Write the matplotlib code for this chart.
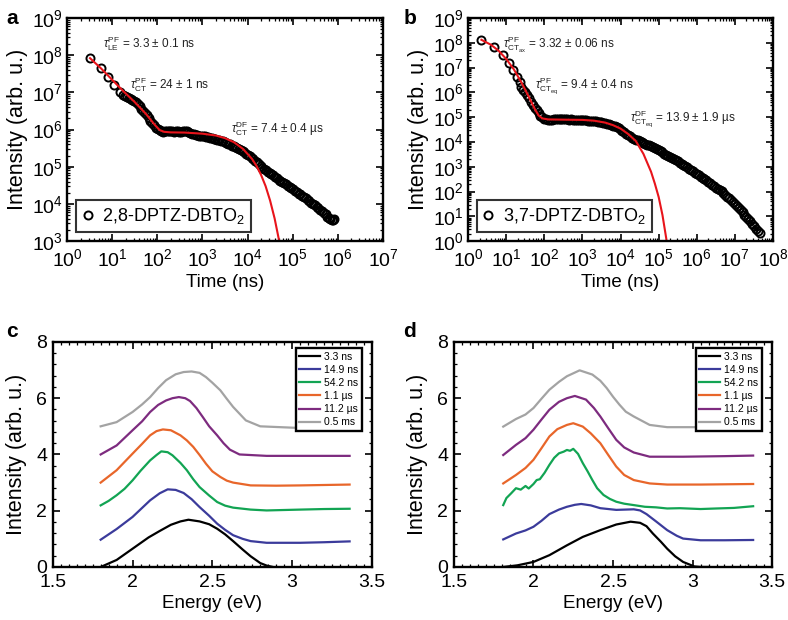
import numpy as np
import matplotlib.pyplot as plt
from matplotlib.ticker import LogLocator, MultipleLocator, FormatStrFormatter, NullFormatter

plt.rcParams['font.family'] = ['Liberation Sans', 'DejaVu Sans']
plt.rcParams['mathtext.fontset'] = 'custom'
plt.rcParams['mathtext.rm'] = 'Liberation Sans'
plt.rcParams['mathtext.it'] = 'Liberation Sans:italic'
plt.rcParams['mathtext.bf'] = 'Liberation Sans:bold'

# --- panel a: decay of 2,8-DPTZ-DBTO2, pairs of (log10 time, log10 intensity) ---
a_points = [
    (0.51, 7.92), (0.76, 7.65), (0.90, 7.42), (1.05, 7.19), (1.18, 7.01),
    (1.25, 6.94), (1.29, 6.90), (1.33, 6.88), (1.37, 6.85), (1.41, 6.83), (1.45, 6.80),
    (1.49, 6.77), (1.53, 6.73), (1.57, 6.69), (1.61, 6.63), (1.65, 6.56), (1.69, 6.50),
    (1.73, 6.44), (1.77, 6.38), (1.81, 6.31), (1.85, 6.24), (1.89, 6.17), (1.93, 6.11),
    (1.97, 6.05), (2.01, 6.01), (2.05, 5.98), (2.09, 5.96), (2.13, 5.94), (2.17, 5.95),
    (2.21, 5.96), (2.25, 5.95), (2.29, 5.97), (2.33, 5.96), (2.37, 5.94), (2.41, 5.95),
    (2.45, 5.96), (2.49, 5.94), (2.53, 5.93), (2.57, 5.96), (2.61, 5.97), (2.65, 5.95),
    (2.69, 5.93), (2.73, 5.91), (2.77, 5.89), (2.81, 5.87), (2.85, 5.86), (2.89, 5.85),
    (2.93, 5.84), (2.97, 5.84), (3.01, 5.83), (3.05, 5.82), (3.09, 5.80), (3.13, 5.79),
    (3.17, 5.78), (3.21, 5.77), (3.25, 5.76), (3.29, 5.74), (3.33, 5.72), (3.37, 5.71),
    (3.41, 5.70), (3.45, 5.69), (3.49, 5.67), (3.53, 5.65), (3.57, 5.62), (3.61, 5.60),
    (3.65, 5.57), (3.69, 5.55), (3.73, 5.52), (3.77, 5.50), (3.81, 5.47), (3.85, 5.45),
    (3.89, 5.42), (3.93, 5.39), (3.97, 5.35), (4.01, 5.31), (4.05, 5.28), (4.09, 5.24),
    (4.13, 5.20), (4.17, 5.16), (4.21, 5.12), (4.25, 5.07), (4.29, 5.02), (4.33, 4.98),
    (4.37, 4.94), (4.41, 4.90), (4.45, 4.86), (4.49, 4.84), (4.53, 4.81), (4.57, 4.77),
    (4.61, 4.73), (4.65, 4.69), (4.69, 4.65), (4.73, 4.62), (4.77, 4.59), (4.81, 4.56),
    (4.85, 4.53), (4.89, 4.49), (4.93, 4.46), (4.97, 4.42), (5.01, 4.39), (5.05, 4.35),
    (5.09, 4.31), (5.13, 4.28), (5.17, 4.26), (5.21, 4.22), (5.25, 4.19), (5.29, 4.15),
    (5.33, 4.11), (5.37, 4.07), (5.41, 4.03), (5.45, 4.00), (5.49, 3.97), (5.53, 3.93),
    (5.57, 3.89), (5.61, 3.85), (5.65, 3.81), (5.69, 3.77), (5.73, 3.73), (5.77, 3.66),
    (5.80, 3.61), (5.83, 3.59), (5.86, 3.57), (5.89, 3.58), (5.92, 3.60),
]
a_fit_logt = [0.51, 0.75, 1.0, 1.25, 1.5, 1.75, 1.95, 2.05, 2.15, 2.3, 2.6, 3.0, 3.3, 3.5,
              3.7, 3.9, 4.1, 4.2, 4.3, 4.4, 4.5, 4.6, 4.7, 4.75]
a_fit_logI = [7.92, 7.65, 7.34, 7.03, 6.74, 6.42, 6.12, 5.99, 5.94, 5.925, 5.92, 5.89, 5.84, 5.77,
              5.66, 5.48, 5.21, 5.02, 4.78, 4.48, 4.09, 3.61, 3.01, 2.65]

# --- panel b: decay of 3,7-DPTZ-DBTO2 ---
b_points = [
    (0.35, 8.12), (0.69, 7.85), (0.92, 7.51), (1.08, 7.17), (1.19, 6.90), (1.29, 6.63),
    (1.36, 6.40), (1.40, 6.20), (1.45, 6.10), (1.50, 6.02), (1.55, 5.88), (1.60, 5.76),
    (1.65, 5.63), (1.70, 5.50), (1.75, 5.38), (1.80, 5.27), (1.85, 5.16), (1.90, 5.06),
    (1.95, 4.99), (2.00, 4.94), (2.05, 4.91), (2.10, 4.89), (2.15, 4.88), (2.20, 4.90),
    (2.25, 4.92), (2.30, 4.93), (2.35, 4.92), (2.40, 4.93), (2.45, 4.94), (2.50, 4.93),
    (2.55, 4.92), (2.60, 4.91), (2.65, 4.90), (2.70, 4.91), (2.75, 4.90), (2.80, 4.89),
    (2.85, 4.90), (2.90, 4.89), (2.95, 4.88), (3.00, 4.87), (3.05, 4.87), (3.10, 4.87),
    (3.15, 4.86), (3.20, 4.86), (3.25, 4.85), (3.30, 4.84), (3.35, 4.83), (3.40, 4.82),
    (3.45, 4.81), (3.50, 4.80), (3.55, 4.78), (3.60, 4.77), (3.65, 4.74), (3.70, 4.72),
    (3.75, 4.69), (3.80, 4.66), (3.85, 4.63), (3.90, 4.59), (3.95, 4.55), (4.00, 4.50),
    (4.05, 4.45), (4.10, 4.39), (4.15, 4.34), (4.20, 4.29), (4.25, 4.24), (4.30, 4.18),
    (4.35, 4.14), (4.40, 4.10), (4.45, 4.06), (4.50, 4.03), (4.55, 3.99), (4.60, 3.96),
    (4.65, 3.93), (4.70, 3.89), (4.75, 3.86), (4.80, 3.83), (4.85, 3.80), (4.90, 3.76),
    (4.95, 3.72), (5.00, 3.67), (5.05, 3.62), (5.10, 3.58), (5.15, 3.53), (5.20, 3.49),
    (5.25, 3.45), (5.30, 3.40), (5.35, 3.36), (5.40, 3.31), (5.45, 3.26), (5.50, 3.22),
    (5.55, 3.17), (5.60, 3.12), (5.65, 3.08), (5.70, 3.03), (5.75, 2.98), (5.80, 2.93),
    (5.85, 2.87), (5.90, 2.82), (5.95, 2.76), (6.00, 2.70), (6.05, 2.65), (6.10, 2.60),
    (6.15, 2.55), (6.20, 2.50), (6.25, 2.45), (6.30, 2.39), (6.35, 2.33), (6.40, 2.27),
    (6.45, 2.21), (6.50, 2.16), (6.55, 2.11), (6.60, 2.06), (6.65, 2.01), (6.70, 1.95),
    (6.75, 1.88), (6.80, 1.80), (6.85, 1.73), (6.90, 1.65), (6.95, 1.57), (7.00, 1.50),
    (7.05, 1.42), (7.10, 1.33), (7.15, 1.25), (7.20, 1.16), (7.25, 1.07), (7.30, 0.98),
    (7.35, 0.89), (7.40, 0.80), (7.45, 0.70), (7.50, 0.61), (7.55, 0.51), (7.60, 0.41),
    (7.65, 0.32),
]
b_fit_logt = [0.35, 0.6, 0.8, 1.0, 1.2, 1.4, 1.6, 1.75, 1.85, 1.95, 2.1, 2.5, 3.0, 3.3, 3.6,
              3.8, 4.0, 4.2, 4.4, 4.6, 4.8, 4.9, 5.0, 5.1, 5.2, 5.23]
b_fit_logI = [8.12, 7.92, 7.68, 7.35, 6.93, 6.40, 5.80, 5.33, 5.07, 4.95, 4.91, 4.90, 4.89, 4.86,
              4.78, 4.68, 4.54, 4.32, 4.04, 3.52, 2.80, 2.32, 1.78, 1.05, 0.10, -0.3]

# --- panels c, d: time-resolved spectra (energy eV, offset intensity) ---
labels = ['3.3 ns', '14.9 ns', '54.2 ns', '1.1 \u00b5s', '11.2 \u00b5s', '0.5 ms']
colors = ['#000000', '#3b3b9b', '#12a453', '#e8662a', '#7d2b7f', '#a3a3a3']

c_E = [
    [1.80, 1.90, 2.00, 2.10, 2.17, 2.24, 2.30, 2.35, 2.42, 2.48, 2.53, 2.58, 2.63, 2.69, 2.74, 2.80, 2.84, 2.88],
    [1.80, 1.90, 2.00, 2.11, 2.17, 2.22, 2.27, 2.32, 2.37, 2.42, 2.48, 2.53, 2.58, 2.63, 2.69, 2.74, 2.84, 3.05, 3.20, 3.36],
    [1.80, 1.85, 1.90, 1.95, 2.00, 2.05, 2.11, 2.15, 2.18, 2.22, 2.25, 2.30, 2.34, 2.38, 2.42, 2.48, 2.53, 2.58, 2.63, 2.74, 2.84, 3.05, 3.20, 3.36],
    [1.80, 1.90, 2.00, 2.06, 2.11, 2.15, 2.19, 2.24, 2.30, 2.34, 2.38, 2.42, 2.46, 2.50, 2.55, 2.59, 2.63, 2.74, 2.90, 3.05, 3.36],
    [1.80, 1.90, 2.00, 2.06, 2.11, 2.16, 2.21, 2.25, 2.29, 2.33, 2.36, 2.40, 2.44, 2.48, 2.53, 2.57, 2.61, 2.67, 2.84, 3.05, 3.36],
    [1.80, 1.90, 2.00, 2.06, 2.11, 2.16, 2.21, 2.27, 2.32, 2.37, 2.42, 2.46, 2.50, 2.55, 2.59, 2.63, 2.71, 2.80, 3.01, 3.20, 3.38],
]
c_I = [
    [0.00, 0.25, 0.65, 1.05, 1.28, 1.50, 1.62, 1.68, 1.62, 1.52, 1.36, 1.16, 0.92, 0.62, 0.38, 0.14, 0.05, 0.00],
    [0.97, 1.35, 1.78, 2.37, 2.62, 2.76, 2.74, 2.63, 2.41, 2.13, 1.82, 1.54, 1.32, 1.13, 1.00, 0.92, 0.86, 0.86, 0.88, 0.91],
    [2.19, 2.35, 2.55, 2.78, 3.08, 3.42, 3.79, 3.98, 4.11, 4.08, 3.97, 3.70, 3.44, 3.12, 2.84, 2.54, 2.31, 2.18, 2.11, 2.04, 2.01, 2.04, 2.06, 2.07],
    [3.00, 3.44, 4.03, 4.38, 4.68, 4.83, 4.89, 4.86, 4.68, 4.50, 4.27, 3.98, 3.67, 3.40, 3.20, 3.07, 3.00, 2.90, 2.89, 2.90, 2.93],
    [4.00, 4.32, 4.86, 5.18, 5.51, 5.76, 5.92, 6.00, 6.04, 6.00, 5.90, 5.65, 5.33, 5.00, 4.68, 4.40, 4.17, 4.00, 3.95, 3.95, 3.95],
    [5.00, 5.15, 5.51, 5.78, 6.04, 6.36, 6.64, 6.85, 6.93, 6.95, 6.90, 6.75, 6.55, 6.28, 5.98, 5.69, 5.21, 5.00, 4.95, 4.95, 4.95],
]

d_E = [
    [1.81, 1.90, 2.00, 2.10, 2.21, 2.31, 2.42, 2.52, 2.61, 2.67, 2.71, 2.75, 2.80, 2.84, 2.89, 2.94, 3.01, 3.05, 3.10],
    [1.81, 1.89, 1.95, 2.00, 2.05, 2.10, 2.16, 2.21, 2.26, 2.30, 2.36, 2.42, 2.52, 2.63, 2.67, 2.71, 2.77, 2.84, 2.90, 2.94, 3.05, 3.20, 3.38],
    [1.81, 1.83, 1.86, 1.89, 1.92, 1.95, 1.97, 2.00, 2.02, 2.04, 2.07, 2.10, 2.13, 2.16, 2.19, 2.21, 2.23, 2.25, 2.28, 2.31, 2.34, 2.37, 2.40, 2.44, 2.48, 2.52, 2.57, 2.63, 2.70, 2.77, 2.84, 2.92, 3.05, 3.15, 3.26, 3.38],
    [1.81, 1.89, 1.95, 2.00, 2.05, 2.10, 2.15, 2.21, 2.25, 2.31, 2.36, 2.42, 2.47, 2.52, 2.57, 2.63, 2.73, 2.84, 3.05, 3.38],
    [1.81, 1.89, 1.95, 2.00, 2.05, 2.10, 2.16, 2.21, 2.26, 2.33, 2.38, 2.42, 2.47, 2.52, 2.57, 2.63, 2.73, 2.94, 3.20, 3.38],
    [1.81, 1.89, 1.95, 2.00, 2.05, 2.10, 2.16, 2.21, 2.29, 2.37, 2.42, 2.46, 2.50, 2.54, 2.58, 2.63, 2.73, 2.84, 3.05],
]
d_I = [
    [0.00, 0.06, 0.18, 0.42, 0.77, 1.07, 1.31, 1.51, 1.61, 1.57, 1.45, 1.19, 0.90, 0.65, 0.38, 0.18, 0.02, 0.00, 0.00],
    [0.98, 1.19, 1.30, 1.43, 1.64, 1.88, 2.04, 2.14, 2.21, 2.24, 2.19, 2.09, 2.03, 2.05, 2.01, 1.88, 1.62, 1.31, 1.11, 1.01, 0.95, 0.95, 0.96],
    [2.20, 2.45, 2.62, 2.80, 2.75, 2.88, 2.79, 2.95, 3.09, 3.12, 3.35, 3.63, 3.88, 4.04, 4.10, 4.16, 4.13, 4.20, 4.02, 3.69, 3.40, 3.09, 2.80, 2.56, 2.42, 2.32, 2.25, 2.20, 2.14, 2.12, 2.08, 2.09, 2.06, 2.08, 2.10, 2.16],
    [2.97, 3.27, 3.52, 3.81, 4.22, 4.64, 4.90, 5.05, 5.11, 4.99, 4.75, 4.40, 3.98, 3.57, 3.27, 3.09, 2.97, 2.93, 2.93, 2.95],
    [3.98, 4.34, 4.58, 4.88, 5.24, 5.59, 5.87, 6.00, 6.08, 5.95, 5.65, 5.35, 4.93, 4.52, 4.25, 4.07, 3.92, 3.92, 3.94, 3.96],
    [4.99, 5.26, 5.42, 5.65, 5.98, 6.30, 6.58, 6.78, 6.99, 6.84, 6.62, 6.36, 6.05, 5.77, 5.52, 5.35, 5.05, 4.97, 4.97],
]

fig = plt.figure(figsize=(7.88, 6.2), dpi=100)
ax_a = fig.add_axes([0.085, 0.611, 0.401, 0.360])
ax_b = fig.add_axes([0.594, 0.611, 0.387, 0.360])
ax_c = fig.add_axes([0.067, 0.0855, 0.405, 0.363])
ax_d = fig.add_axes([0.576, 0.0855, 0.404, 0.363])


def style_axes(ax, xpad=3, ypad=3):
    for s in ax.spines.values():
        s.set_linewidth(1.7)
    ax.tick_params(which='both', direction='in', top=True, right=True, labelsize=14)
    ax.tick_params(axis='x', pad=xpad)
    ax.tick_params(axis='y', pad=ypad)
    ax.tick_params(which='major', length=5, width=1.2)
    ax.tick_params(which='minor', length=2.5, width=0.9)


def decay_panel(ax, points, fit_t, fit_I, name, xmax, ymin):
    logt, logI = np.array(points).T
    ax.plot(10 ** logt, 10 ** logI, 'o', mfc='none', mec='black', ms=5.8, mew=1.4, label=name)
    ax.plot(10 ** np.array(fit_t), 10 ** np.array(fit_I), color='#e8141b', lw=1.5)
    ax.set_xscale('log')
    ax.set_yscale('log')
    ax.set_xlim(1, xmax)
    ax.set_ylim(ymin, 1e9)
    for axis in (ax.xaxis, ax.yaxis):
        axis.set_major_locator(LogLocator(base=10, numticks=20))
        axis.set_minor_locator(LogLocator(base=10, subs=np.arange(2, 10), numticks=100))
        axis.set_minor_formatter(NullFormatter())
    style_axes(ax, xpad=5, ypad=3)
    ax.set_xlabel('Time (ns)', fontsize=13.5, labelpad=3)
    ax.set_ylabel('Intensity (arb. u.)', fontsize=15.5, labelpad=3)
    leg = ax.legend(loc='lower left', fontsize=13, handlelength=0.6, handletextpad=0.5,
                    borderpad=0.35, fancybox=False, edgecolor='black', borderaxespad=0,
                    bbox_to_anchor=(0.028, 0.04))
    leg.get_frame().set_linewidth(1.5)


decay_panel(ax_a, a_points, a_fit_logt, a_fit_logI, '2,8-DPTZ-DBTO$_2$', 1e7, 1e3)
decay_panel(ax_b, b_points, b_fit_logt, b_fit_logI, '3,7-DPTZ-DBTO$_2$', 1e8, 1)

ann = dict(fontsize=8.5, va='center', ha='left', color='#222222')
ax_a.text(10 ** 0.80, 10 ** 8.30, r'$\tau_{\rm LE}^{\rm PF}$ = 3.3 $\pm$ 0.1 ns', **ann)
ax_a.text(10 ** 1.40, 10 ** 7.22, r'$\tau_{\rm CT}^{\rm PF}$ = 24 $\pm$ 1 ns', **ann)
ax_a.text(10 ** 3.63, 10 ** 6.03, r'$\tau_{\rm CT}^{\rm DF}$ = 7.4 $\pm$ 0.4 ' + '\u00b5s', **ann)
ax_b.text(10 ** 0.92, 10 ** 7.92, r'$\tau_{\rm CT_{ax}}^{\rm PF}$ = 3.32 $\pm$ 0.06 ns', **ann)
ax_b.text(10 ** 1.76, 10 ** 6.29, r'$\tau_{\rm CT_{eq}}^{\rm PF}$ = 9.4 $\pm$ 0.4 ns', **ann)
ax_b.text(10 ** 4.26, 10 ** 4.95, r'$\tau_{\rm CT_{eq}}^{\rm DF}$ = 13.9 $\pm$ 1.9 ' + '\u00b5s', **ann)


def spectra_panel(ax, Es, Is):
    for E, I, lab, col in zip(Es, Is, labels, colors):
        ax.plot(E, I, color=col, lw=1.6, label=lab)
    ax.set_xlim(1.5, 3.5)
    ax.set_ylim(0, 8)
    ax.xaxis.set_major_locator(MultipleLocator(0.5))
    ax.xaxis.set_minor_locator(MultipleLocator(0.05))
    ax.xaxis.set_major_formatter(FormatStrFormatter('%g'))
    ax.yaxis.set_major_locator(MultipleLocator(2))
    ax.yaxis.set_minor_locator(MultipleLocator(0.4))
    style_axes(ax, xpad=5, ypad=4)
    ax.set_xlabel('Energy (eV)', fontsize=13.5, labelpad=3)
    ax.set_ylabel('Intensity (arb. u.)', fontsize=15.5, labelpad=7)
    leg = ax.legend(loc='upper right', fontsize=7.5, handlelength=2.0, handletextpad=0.4,
                    labelspacing=0.3, borderpad=0.35, fancybox=False, edgecolor='black',
                    framealpha=1, borderaxespad=0, bbox_to_anchor=(0.969, 0.973))
    leg.get_frame().set_linewidth(1.7)


spectra_panel(ax_c, c_E, c_I)
spectra_panel(ax_d, d_E, d_I)

for lab, x, y in [('a', 0.008, 0.985), ('b', 0.512, 0.985), ('c', 0.008, 0.48), ('d', 0.512, 0.48)]:
    fig.text(x, y, lab, fontsize=15, fontweight='bold', va='top', ha='left')

fig.savefig('out.png', dpi=100)
